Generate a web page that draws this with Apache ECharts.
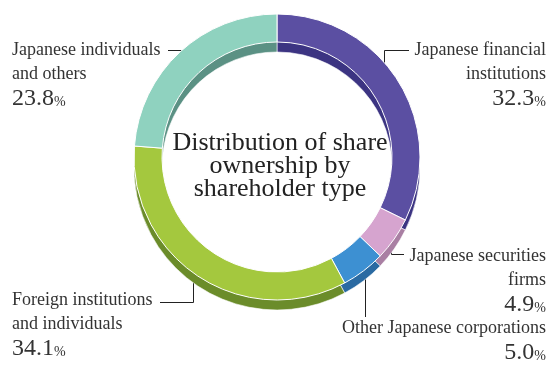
<!DOCTYPE html>
<html>
<head>
<meta charset="utf-8">
<script src="https://cdn.jsdelivr.net/npm/echarts@6/dist/echarts.min.js"></script>
<style>
html,body{margin:0;padding:0;background:#fff;}
#chart{width:552px;height:365px;}
</style>
</head>
<body>
<div id="chart"></div>
<script>
// ---- data ----
const categories = ['Japanese financial\ninstitutions', 'Japanese securities\nfirms', 'Other Japanese corporations', 'Foreign institutions\nand individuals', 'Japanese individuals\nand others'];
const shares = [32.3, 4.9, 5.0, 34.1, 23.8];
const chartTitle = 'Distribution of share\nownership by\nshareholder type';

// ---- styles ----
const faceColors = ['#5b4fa2', '#d6a4cf', '#3d90d2', '#a4c83e', '#8fd2bf'];
const sideColors = ['#3c3482', '#a97fa3', '#2a6aa2', '#6b8c2a', '#5b9184'];
const FONT = '"Liberation Serif", "Times New Roman", serif';
const CX = 277, CY = 157, R0 = 115, R1 = 143, DEPTH = 10;

const layouts = [
  {x: 546, y: 38, align: 'right', verticalAlign: 'top', width: 260, labelLinePoints: [[384.5, 68], [384.5, 50.5], [409, 50.5]]},
  {x: 546, y: 244, align: 'right', verticalAlign: 'top', width: 260, labelLinePoints: [[391.5, 238], [391.5, 254.5], [404, 254.5]]},
  {x: 546, y: 316, align: 'right', verticalAlign: 'top', width: 260, labelLinePoints: [[365.5, 263], [365.5, 290], [365.5, 317]]},
  {x: 12, y: 288, align: 'left', verticalAlign: 'top', width: 260, labelLinePoints: [[193.5, 268], [193.5, 302.5], [160, 302.5]]},
  {x: 12, y: 38, align: 'left', verticalAlign: 'top', width: 260, labelLinePoints: [[190, 50.5], [179, 50.5], [168, 50.5]]}
];

const faceData = categories.map((c, i) => ({name: c, value: shares[i], itemStyle: {color: faceColors[i]}}));
const sideData = categories.map((c, i) => ({name: c, value: shares[i], itemStyle: {color: sideColors[i]}}));

const chart = echarts.init(document.getElementById('chart'));
chart.setOption({
  animation: false,
  backgroundColor: '#fff',
  series: [
    {
      type: 'pie', center: [CX, CY + DEPTH], radius: [R0, R1],
      startAngle: 90, clockwise: true, silent: true,
      label: {show: false}, labelLine: {show: false},
      itemStyle: {borderColor: '#ffffff', borderWidth: 0.6},
      emphasis: {disabled: true},
      data: sideData
    },
    {
      type: 'pie', center: [CX, CY], radius: [R0, R1],
      startAngle: 90, clockwise: true, silent: true,
      itemStyle: {borderColor: '#ffffff', borderWidth: 1},
      emphasis: {disabled: true},
      label: {
        show: true, position: 'outside', overflow: 'none', width: 260,
        formatter: p => p.name.split('\n').map(s => '{n|' + s + '}').join('\n') + '\n{v|' + p.value.toFixed(1) + '}{p|%}',
        rich: {
          n: {fontSize: 18, lineHeight: 24, fontFamily: FONT, color: '#333'},
          v: {fontSize: 24, lineHeight: 26, fontFamily: FONT, color: '#333'},
          p: {fontSize: 14, lineHeight: 20, fontFamily: FONT, color: '#333', padding: [6, 0, 0, 0]}
        }
      },
      labelLine: {show: true, lineStyle: {color: '#222', width: 1}},
      labelLayout: function (params) { return layouts[params.dataIndex]; },
      data: faceData
    }
  ],
  graphic: [{
    type: 'text', x: 280, y: 166, silent: true,
    style: {text: chartTitle, align: 'center', verticalAlign: 'middle', fontSize: 26, lineHeight: 23, fontFamily: FONT, fill: '#222'}
  }]
});
</script>
</body>
</html>
